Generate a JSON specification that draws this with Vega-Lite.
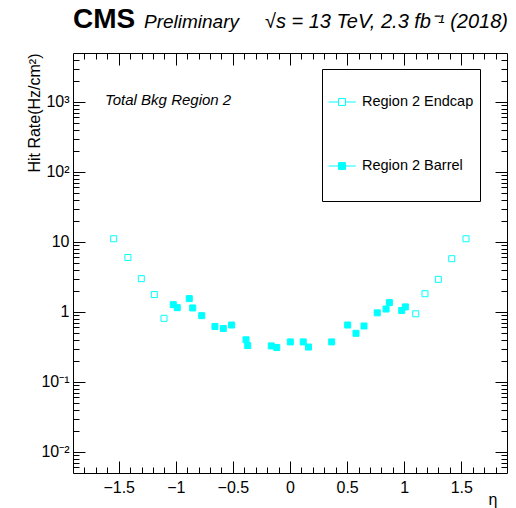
{
  "$schema": "https://vega.github.io/schema/vega-lite/v6.json",
  "autosize": {"type": "none"},
  "width": 434,
  "height": 420,
  "padding": {"left": 73, "top": 53, "right": 9, "bottom": 35},
  "background": "white",
  "config": {
    "font": "Liberation Sans",
    "view": {"stroke": "black", "strokeWidth": 1},
    "axis": {"grid": false, "domain": false, "tickColor": "black", "tickWidth": 1, "labelColor": "black", "titleColor": "black", "labelFont": "Liberation Sans", "labelFontSize": 16, "titleFont": "Liberation Sans", "titleFontSize": 16, "titleFontWeight": "normal"},
    "legend": {"labelFont": "Liberation Sans", "labelFontSize": 14.5, "labelColor": "black"}
  },
  "title": {
    "text": "CMS",
    "anchor": "start",
    "frame": "group",
    "font": "Liberation Sans",
    "fontSize": 28,
    "fontWeight": "bold",
    "color": "black",
    "offset": -22
  },
  "datasets": {
    "pts": [
      {"series": "Region 2 Endcap", "eta": -1.544, "rate": 11.1},
      {"series": "Region 2 Endcap", "eta": -1.419, "rate": 6.0},
      {"series": "Region 2 Endcap", "eta": -1.302, "rate": 2.99},
      {"series": "Region 2 Endcap", "eta": -1.188, "rate": 1.77},
      {"series": "Region 2 Endcap", "eta": -1.103, "rate": 0.81},
      {"series": "Region 2 Endcap", "eta": 1.101, "rate": 0.94},
      {"series": "Region 2 Endcap", "eta": 1.182, "rate": 1.82},
      {"series": "Region 2 Endcap", "eta": 1.299, "rate": 2.92},
      {"series": "Region 2 Endcap", "eta": 1.416, "rate": 5.76},
      {"series": "Region 2 Endcap", "eta": 1.541, "rate": 11.1},
      {"series": "Region 2 Barrel", "eta": -1.022, "rate": 1.27},
      {"series": "Region 2 Barrel", "eta": -0.987, "rate": 1.15},
      {"series": "Region 2 Barrel", "eta": -0.882, "rate": 1.55},
      {"series": "Region 2 Barrel", "eta": -0.852, "rate": 1.14},
      {"series": "Region 2 Barrel", "eta": -0.773, "rate": 0.885},
      {"series": "Region 2 Barrel", "eta": -0.657, "rate": 0.62},
      {"series": "Region 2 Barrel", "eta": -0.584, "rate": 0.58},
      {"series": "Region 2 Barrel", "eta": -0.511, "rate": 0.65},
      {"series": "Region 2 Barrel", "eta": -0.385, "rate": 0.40},
      {"series": "Region 2 Barrel", "eta": -0.370, "rate": 0.33},
      {"series": "Region 2 Barrel", "eta": -0.164, "rate": 0.327},
      {"series": "Region 2 Barrel", "eta": -0.116, "rate": 0.31},
      {"series": "Region 2 Barrel", "eta": 0.003, "rate": 0.373},
      {"series": "Region 2 Barrel", "eta": 0.116, "rate": 0.373},
      {"series": "Region 2 Barrel", "eta": 0.162, "rate": 0.315},
      {"series": "Region 2 Barrel", "eta": 0.365, "rate": 0.373},
      {"series": "Region 2 Barrel", "eta": 0.505, "rate": 0.65},
      {"series": "Region 2 Barrel", "eta": 0.578, "rate": 0.495},
      {"series": "Region 2 Barrel", "eta": 0.648, "rate": 0.63},
      {"series": "Region 2 Barrel", "eta": 0.764, "rate": 0.97},
      {"series": "Region 2 Barrel", "eta": 0.841, "rate": 1.10},
      {"series": "Region 2 Barrel", "eta": 0.870, "rate": 1.36},
      {"series": "Region 2 Barrel", "eta": 0.978, "rate": 1.05},
      {"series": "Region 2 Barrel", "eta": 1.010, "rate": 1.18}
    ]
  },
  "data": {"name": "pts"},
  "layer": [
    {
      "mark": {"type": "point", "shape": "square", "size": 36, "filled": true, "stroke": "#00FFFF", "strokeWidth": 1, "opacity": 1},
      "encoding": {
        "x": {
          "field": "eta", "type": "quantitative",
          "scale": {"domain": [-1.9, 1.9], "nice": false, "zero": false},
          "axis": {
            "orient": "bottom",
            "offset": -12,
            "values": [-1.5,-1,-0.5,0,0.5,1,1.5],
            "format": ".2~f",
            "labelFontSize": 16,
            "labelPadding": 6,
            "labelFlush": false,
            "tickSize": 12,
            "title": "η",
            "titleFontSize": 16,
            "titleAnchor": "end",
            "titleAlign": "right",
            "titleX": 424,
            "titlePadding": -4
          }
        },
        "y": {
          "field": "rate", "type": "quantitative",
          "scale": {"type": "log", "domain": [0.005, 5000], "nice": false},
          "axis": {
            "orient": "left",
            "offset": -12,
            "values": [0.01,0.1,1,10,100,1000],
            "labelExpr": "datum.value == 1000 ? '10³' : datum.value == 100 ? '10²' : datum.value == 10 ? '10' : datum.value == 1 ? '1' : datum.value == 0.1 ? '10⁻¹' : '10⁻²'",
            "labelFontSize": 16,
            "labelPadding": 4,
            "labelFlush": false,
            "tickSize": 12,
            "title": "Hit Rate(Hz/cm²)",
            "titleFontSize": 16,
            "titleAnchor": "end",
            "titlePadding": -2
          }
        },
        "fill": {
          "field": "series", "type": "nominal",
          "scale": {"domain": ["Region 2 Endcap", "Region 2 Barrel"], "range": ["#ffffff", "#00FFFF"]},
          "legend": {
            "title": null,
            "orient": "none",
            "legendX": 249,
            "legendY": 16,
            "direction": "vertical",
            "symbolType": "M-1,-1M1,1M-1,0H-0.62M-0.36,0H0.03M-0.62,-0.13H-0.36V0.13H-0.62Z",
            "symbolSize": 2809,
            "symbolStrokeColor": "#00FFFF",
            "symbolStrokeWidth": 1,
            "symbolOpacity": 1,
            "labelFont": "Liberation Sans",
            "labelFontSize": 14.5,
            "labelColor": "black",
            "labelOffset": -20,
            "padding": 6,
            "strokeColor": "black",
            "fillColor": "white",
            "cornerRadius": 0,
            "rowPadding": 6
          }
        }
      }
    },
    {
      "mark": {"type": "point", "opacity": 0},
      "encoding": {
        "x": {
          "field": "eta", "type": "quantitative",
          "axis": {
            "orient": "bottom", "offset": -6,
            "values": [-1.8,-1.7,-1.6,-1.4,-1.3,-1.2,-1.1,-0.9,-0.8,-0.7,-0.6,-0.4,-0.3,-0.2,-0.1,0.1,0.2,0.3,0.4,0.6,0.7,0.8,0.9,1.1,1.2,1.3,1.4,1.6,1.7,1.8],
            "labels": false, "tickSize": 6, "title": null
          }
        },
        "y": {
          "field": "rate", "type": "quantitative",
          "axis": {
            "orient": "left", "offset": -6,
            "values": [0.006,0.007,0.008,0.009,0.02,0.03,0.04,0.05,0.06,0.07,0.08,0.09,0.2,0.3,0.4,0.5,0.6,0.7,0.8,0.9,2,3,4,5,6,7,8,9,20,30,40,50,60,70,80,90,200,300,400,500,600,700,800,900,2000,3000,4000],
            "labels": false, "tickSize": 6, "title": null
          }
        }
      }
    },
    {
      "mark": {"type": "point", "opacity": 0},
      "encoding": {
        "x": {
          "field": "eta", "type": "quantitative",
          "axis": {"orient": "top", "offset": -12, "values": [-1.5,-1,-0.5,0,0.5,1,1.5], "labels": false, "tickSize": 12, "title": null}
        },
        "y": {
          "field": "rate", "type": "quantitative",
          "axis": {"orient": "right", "offset": -12, "values": [0.01,0.1,1,10,100,1000], "labels": false, "tickSize": 12, "title": null}
        }
      }
    },
    {
      "mark": {"type": "point", "opacity": 0},
      "encoding": {
        "x": {
          "field": "eta", "type": "quantitative",
          "axis": {
            "orient": "top", "offset": -6,
            "values": [-1.8,-1.7,-1.6,-1.4,-1.3,-1.2,-1.1,-0.9,-0.8,-0.7,-0.6,-0.4,-0.3,-0.2,-0.1,0.1,0.2,0.3,0.4,0.6,0.7,0.8,0.9,1.1,1.2,1.3,1.4,1.6,1.7,1.8],
            "labels": false, "tickSize": 6, "title": null
          }
        },
        "y": {
          "field": "rate", "type": "quantitative",
          "axis": {
            "orient": "right", "offset": -6,
            "values": [0.006,0.007,0.008,0.009,0.02,0.03,0.04,0.05,0.06,0.07,0.08,0.09,0.2,0.3,0.4,0.5,0.6,0.7,0.8,0.9,2,3,4,5,6,7,8,9,20,30,40,50,60,70,80,90,200,300,400,500,600,700,800,900,2000,3000,4000],
            "labels": false, "tickSize": 6, "title": null
          }
        }
      }
    },
    {
      "data": {"values": [{"note": "Total Bkg Region 2"}]},
      "mark": {"type": "text", "align": "left", "baseline": "alphabetic", "font": "Liberation Sans", "fontSize": 15, "fontStyle": "italic", "color": "black"},
      "encoding": {
        "x": {"datum": -1.62, "type": "quantitative", "axis": null},
        "y": {"datum": 900, "type": "quantitative", "axis": null},
        "text": {"field": "note"}
      }
    },
    {
      "data": {"values": [{"note": "Preliminary"}]},
      "mark": {"type": "text", "align": "left", "baseline": "alphabetic", "font": "Liberation Sans", "fontSize": 19, "fontStyle": "italic", "color": "black"},
      "encoding": {
        "x": {"datum": -1.2785, "type": "quantitative", "axis": null},
        "y": {"datum": 11560, "type": "quantitative", "axis": null},
        "text": {"field": "note"}
      }
    },
    {
      "data": {"values": [{"note": "√s = 13 TeV, 2.3 fb⁻¹ (2018)"}]},
      "mark": {"type": "text", "align": "right", "baseline": "alphabetic", "font": "Liberation Sans", "fontSize": 20, "fontStyle": "italic", "color": "black"},
      "encoding": {
        "x": {"datum": 1.909, "type": "quantitative", "axis": null},
        "y": {"datum": 11560, "type": "quantitative", "axis": null},
        "text": {"field": "note"}
      }
    }
  ],
  "resolve": {"axis": {"x": "independent", "y": "independent"}}
}
